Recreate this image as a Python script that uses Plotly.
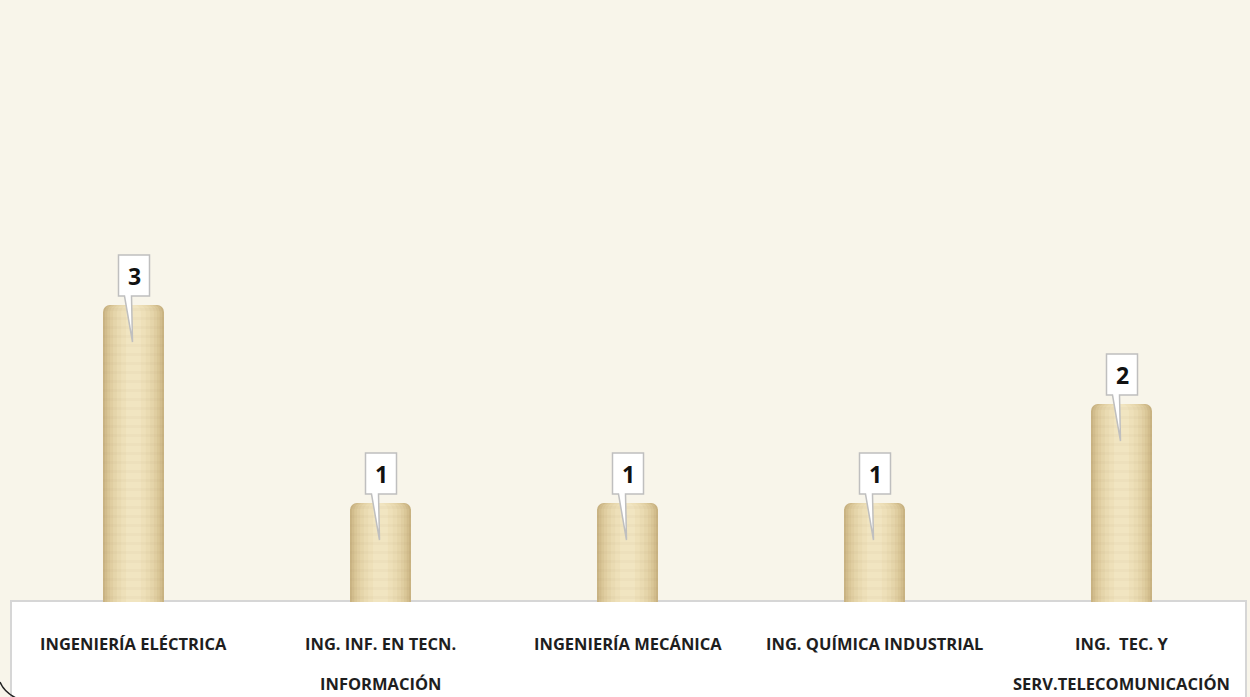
import plotly.graph_objects as go

# ---- data ----
categories = ["INGENIERÍA ELÉCTRICA", "ING. INF. EN TECN. INFORMACIÓN",
              "INGENIERÍA MECÁNICA", "ING. QUÍMICA INDUSTRIAL",
              "ING. TEC. Y SERV.TELECOMUNICACIÓN"]
label_lines = [["INGENIERÍA ELÉCTRICA"],
               ["ING. INF. EN TECN.", "INFORMACIÓN"],
               ["INGENIERÍA MECÁNICA"],
               ["ING. QUÍMICA INDUSTRIAL"],
               ["ING.  TEC. Y", "SERV.TELECOMUNICACIÓN"]]
values = [3, 1, 1, 1, 2]

# ---- layout geometry (pixels) ----
WIDTH, HEIGHT = 1250, 697
ML, MR, MT, MB = 10, 5, 8, 95
PW = WIDTH - ML - MR
PH = HEIGHT - MT - MB
BG = "#F8F5EA"

def px_x(p):
    return (p - ML) / PW

def px_y(p):
    return (HEIGHT - MB - p) / PH

xs = list(range(len(values)))
fig = go.Figure()

# cylinder-like shading: overlaid bars of decreasing width
layers = [(0.247, "#C9B382"), (0.232, "#D2BD8D"), (0.212, "#DAC798"),
          (0.19, "#E0CEA1"), (0.165, "#E5D5AA"), (0.135, "#EADBB2"),
          (0.1, "#EEE0B9"), (0.06, "#F1E5C1")]
for w, c in layers:
    fig.add_trace(go.Bar(x=xs, y=values, width=w, marker_color=c,
                         marker_line_width=0, hoverinfo="skip",
                         showlegend=False))
# subtle horizontal texture
fig.add_trace(go.Bar(x=xs, y=values, width=0.247,
                     marker=dict(color="rgba(0,0,0,0)", line_width=0,
                                 pattern=dict(shape="-", fgcolor="#9C8356",
                                              fgopacity=0.06, size=9,
                                              solidity=0.3)),
                     hoverinfo="skip", showlegend=False))

# floor panel
fig.add_shape(type="rect", xref="paper", yref="paper",
              x0=px_x(11), x1=px_x(1246), y0=px_y(700), y1=px_y(601),
              fillcolor="white", line=dict(color="#D6D6D6", width=2),
              layer="below")
# frame corner arc
fig.add_shape(type="path", xref="paper", yref="paper",
              path=f"M {px_x(0)},{px_y(682)} Q {px_x(4)},{px_y(692)} {px_x(16)},{px_y(698)}",
              line=dict(color="#222222", width=1.5))

# callouts
ux = 1 / 247.0
uy = 1 / 99.0
for i, v in zip(xs, values):
    xl, xr = i - 15 * ux, i + 16 * ux
    yb, yt = v + 9 * uy, v + 50 * uy
    b1, b2 = i - 9 * ux, i - 2 * ux
    tip_x, tip_y = i - 1 * ux, v - 37 * uy
    path = (f"M {xl},{yb} L {b1},{yb} L {tip_x},{tip_y} L {b2},{yb} "
            f"L {xr},{yb} L {xr},{yt} L {xl},{yt} Z")
    fig.add_shape(type="path", path=path, fillcolor="white",
                  line=dict(color="#BFBFBF", width=1.5), layer="above")
    fig.add_annotation(x=i + 0.5 * ux, y=(yb + yt) / 2, text=f"<b>{v}</b>",
                       showarrow=False, font=dict(size=23, color="#111111",
                                                  family="Open Sans"))

# category labels
for i, lines in zip(xs, label_lines):
    for k, line in enumerate(lines):
        fig.add_annotation(x=i, xref="x", y=0, yref="paper", yanchor="middle",
                           yshift=-41 - 40 * k, text=f"<b>{line}</b>",
                           showarrow=False,
                           font=dict(size=16.5, color="#1E1E1E", family="Open Sans"))

fig.update_layout(
    width=WIDTH, height=HEIGHT, margin=dict(l=ML, r=MR, t=MT, b=MB),
    paper_bgcolor=BG, plot_bgcolor=BG, barmode="overlay",
    barcornerradius=7, showlegend=False,
    xaxis=dict(range=[-0.5, 4.5], visible=False, fixedrange=True),
    yaxis=dict(range=[0, 6], visible=False, fixedrange=True),
)

fig.write_html("out.html", config={"displayModeBar": False},
               post_script="document.body.style.margin='0';document.body.style.overflow='hidden';")
